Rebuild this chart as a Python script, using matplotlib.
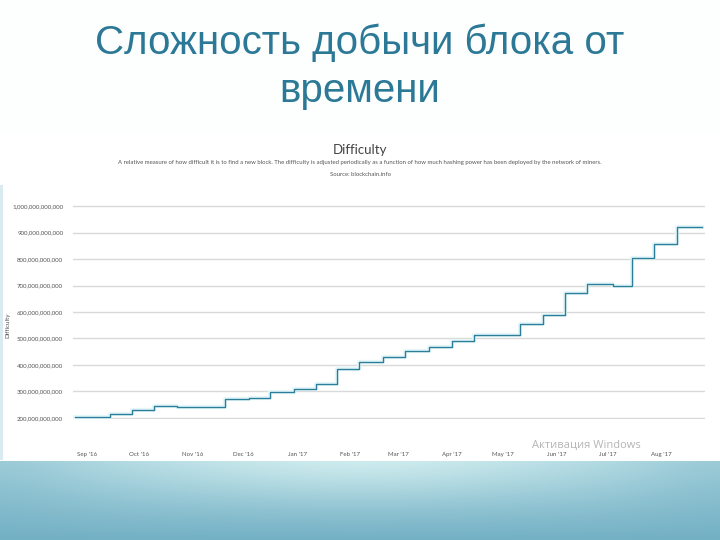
import numpy as np
import pandas as pd
import matplotlib
matplotlib.use("Agg")
import matplotlib.pyplot as plt
import matplotlib.dates as mdates
from matplotlib.patches import Rectangle

# step dates (difficulty changes) and difficulty in billions
change_dates = ['2016-08-25', '2016-09-14', '2016-09-27', '2016-10-10', '2016-10-23',
                '2016-11-20', '2016-12-04', '2016-12-16', '2016-12-30', '2017-01-12',
                '2017-01-24', '2017-02-06', '2017-02-20', '2017-03-05', '2017-03-19',
                '2017-04-01', '2017-04-14', '2017-05-11', '2017-05-24', '2017-06-06',
                '2017-06-19', '2017-07-04', '2017-07-15', '2017-07-28', '2017-08-10',
                '2017-08-25']
difficulty_bn = [205, 214, 230, 245, 240,
                 272, 274, 298, 308, 327,
                 384, 413, 429, 453, 468,
                 491, 513, 555, 590, 671,
                 705, 699, 803, 857, 922,
                 922]
ytick_vals = [200, 300, 400, 500, 600, 700, 800, 900, 1000]
ytick_labels = ['200,000,000,000', '300,000,000,000', '400,000,000,000',
                '500,000,000,000', '600,000,000,000', '700,000,000,000',
                '800,000,000,000', '900,000,000,000', '1,000,000,000,000']
month_ticks = pd.date_range('2016-09-01', '2017-08-01', freq='MS')

slide_title = 'Сложность добычи блока от\nвремени'
chart_title = 'Difficulty'
chart_sub = ('A relative measure of how difficult it is to find a new block. The difficulty is adjusted '
             'periodically as a function of how much hashing power has been deployed by the network of miners.')
chart_src = 'Source: blockchain.info'

W, H = 720, 540
fig = plt.figure(figsize=(7.2, 5.4), dpi=100)
fig.patch.set_facecolor('#fdfefe')

def fx(x):
    return x / W

def fy(y):
    return 1 - y / H

# white screenshot area (behind everything)
bg = fig.add_axes([0, 0, 1, 1], zorder=-5)
bg.set_axis_off()
bg.set_xlim(0, W)
bg.set_ylim(H, 0)
bg.add_patch(Rectangle((0, 134), W, 327, facecolor='white', edgecolor='none'))
bg.add_patch(Rectangle((0, 185), 2.5, 275, facecolor='#d9ebf1', edgecolor='none'))

# teal band at the bottom of the slide
band = fig.add_axes([0, 0, 1, fy(461)], zorder=-4)
band.set_axis_off()
yy, xx = np.mgrid[0:1:80j, 0:1:360j]
top = np.array([0.66, 0.83, 0.87])
bottom = np.array([0.45, 0.69, 0.77])
img = top[None, None, :] * (1 - yy[..., None]) + bottom[None, None, :] * yy[..., None]
glow = np.exp(-(((xx - 0.5) / 0.32) ** 2) - ((yy / 0.55) ** 2))
img = img + glow[..., None] * np.array([0.14, 0.09, 0.06])
edge = np.exp(-((np.minimum(xx, 1 - xx) / 0.12) ** 2)) * (1 - yy)
img = img - edge[..., None] * np.array([0.06, 0.04, 0.03])
band.imshow(np.clip(img, 0, 1), aspect='auto', extent=[0, 1, 1, 0])

# slide title
fig.text(0.5, fy(67), slide_title, ha='center', va='center', fontsize=29,
         color='#2b7997', family='Liberation Sans', linespacing=1.32)

# embedded chart texts
fig.text(0.5, fy(150), chart_title, ha='center', va='center', fontsize=9.5,
         color='#444444', family='Lato')
fig.text(0.5, fy(162.5), chart_sub, ha='center', va='center', fontsize=4.3,
         color='#555555', family='Lato')
fig.text(0.5, fy(175), chart_src, ha='center', va='center', fontsize=4.3,
         color='#555555', family='Lato')
fig.text(fx(8), fy(325), 'Difficulty', rotation=90, ha='center', va='center',
         fontsize=4.5, color='#555555', family='Lato')

ax = fig.add_axes([fx(73), fy(419), fx(705) - fx(73), fy(205) - fy(419)])
ax.set_facecolor('none')
dates = pd.to_datetime(change_dates)
ax.plot(dates, difficulty_bn, drawstyle='steps-post', color='#e6f7fa', lw=3, zorder=2)
ax.plot(dates, difficulty_bn, drawstyle='steps-post', color='#2d7f99', lw=1.0, zorder=3)

ax.set_ylim(196, 1004)
ax.set_yticks(ytick_vals)
ax.set_yticklabels(ytick_labels)
ax.set_xlim(pd.Timestamp('2016-08-23 14:00'), pd.Timestamp('2017-08-26 12:00'))
ax.set_xticks(month_ticks)
ax.xaxis.set_major_formatter(mdates.DateFormatter("%b '%y"))
ax.grid(axis='y', color='#d9d9d9', lw=1)
ax.grid(axis='x', visible=False)
ax.set_axisbelow(True)
for s in ax.spines.values():
    s.set_visible(False)
ax.tick_params(length=0, labelsize=4.4, labelcolor='#555555')
ax.tick_params(axis='x', pad=24)
ax.tick_params(axis='y', pad=7)
for lab in ax.get_xticklabels() + ax.get_yticklabels():
    lab.set_family('Lato')

# windows activation watermark
fig.text(fx(586), fy(445), 'Активация Windows', ha='center', va='center', fontsize=8,
         color='#b5b5b5', family='Open Sans')

fig.savefig('out.png', dpi=100, facecolor=fig.get_facecolor())
